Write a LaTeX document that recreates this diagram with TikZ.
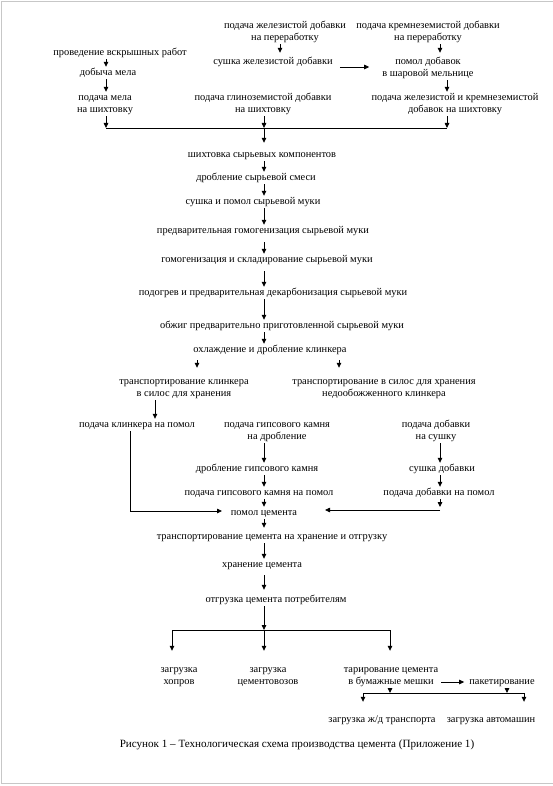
\documentclass[tikz,border=0pt]{standalone}
\usepackage{fontspec}
\setmainfont{Liberation Serif}
\usetikzlibrary{arrows.meta,calc}
\begin{document}
\begin{tikzpicture}[x=1pt,y=-1pt,
  lbl/.style={inner sep=0pt, align=center, font=\fontsize{10.4}{12}\selectfont},
  captxt/.style={inner sep=0pt, font=\fontsize{11.1}{13}\selectfont},
  arr/.style={line width=0.8pt, -{Triangle[length=5pt,width=4.5pt]}},
  plainln/.style={line width=0.8pt},
  pageframe/.style={line width=1pt, draw=black!22}]
\useasboundingbox (0,0) rectangle (553,786);
\draw[pageframe] (553,1.5) -- (1.5,1.5) -- (1.5,783.7) -- (553,783.7);

% ---- nodes ----
\node[lbl] (n1) at (285,32) {\strut подача железистой добавки\\\strut на переработку};
\node[lbl] (n2) at (428,32) {\strut подача кремнеземистой добавки\\\strut на переработку};
\node[lbl] (n3) at (120,53) {\strut проведение вскрышных работ};
\node[lbl] (n4) at (108,73) {\strut добыча мела};
\node[lbl] (n5) at (105,104) {\strut подача мела\\\strut на шихтовку};
\node[lbl] (n6) at (273,62) {\strut сушка железистой добавки};
\node[lbl] (n7) at (428,68) {\strut помол добавок\\\strut в шаровой мельнице};
\node[lbl] (n8) at (263,104) {\strut подача глиноземистой добавки\\\strut на шихтовку};
\node[lbl] (n9) at (455,104) {\strut подача железистой и кремнеземистой\\\strut добавок на шихтовку};
\node[lbl] (n10) at (262,155) {\strut шихтовка сырьевых компонентов};
\node[lbl] (n11) at (256,178) {\strut дробление сырьевой смеси};
\node[lbl] (n12) at (253,202) {\strut сушка и помол сырьевой муки};
\node[lbl] (n13) at (263,231) {\strut предварительная гомогенизация сырьевой муки};
\node[lbl] (n14) at (267,260) {\strut гомогенизация и складирование сырьевой муки};
\node[lbl] (n15) at (273,293) {\strut подогрев и предварительная декарбонизация сырьевой муки};
\node[lbl] (n16) at (282,326) {\strut обжиг предварительно приготовленной сырьевой муки};
\node[lbl] (n17) at (270,350) {\strut охлаждение и дробление клинкера};
\node[lbl] (n18) at (184,388) {\strut транспортирование клинкера\\\strut в силос для хранения};
\node[lbl] (n19) at (384,388) {\strut транспортирование в силос для хранения\\\strut недообожженного клинкера};
\node[lbl] (n20) at (137,425) {\strut подача клинкера на помол};
\node[lbl] (n21) at (277,431) {\strut подача гипсового камня\\\strut на дробление};
\node[lbl] (n22) at (436,431) {\strut подача добавки\\\strut на сушку};
\node[lbl] (n23) at (257,469) {\strut дробление гипсового камня};
\node[lbl] (n24) at (442,469) {\strut сушка добавки};
\node[lbl] (n25) at (259,493) {\strut подача гипсового камня на помол};
\node[lbl] (n26) at (439,493) {\strut подача добавки на помол};
\node[lbl] (n27) at (264,513) {\strut помол цемента};
\node[lbl] (n28) at (272,537) {\strut транспортирование цемента на хранение и отгрузку};
\node[lbl] (n29) at (262,565) {\strut хранение цемента};
\node[lbl] (n30) at (276,600) {\strut отгрузка цемента потребителям};
\node[lbl] (n31) at (179,676) {\strut загрузка\\\strut хопров};
\node[lbl] (n32) at (268,676) {\strut загрузка\\\strut цементовозов};
\node[lbl] (n33) at (391,676) {\strut тарирование цемента\\\strut в бумажные мешки};
\node[lbl] (n34) at (502,682) {\strut пакетирование};
\node[lbl] (n35) at (382,720) {\strut загрузка ж/д транспорта};
\node[lbl] (n36) at (491,720) {\strut загрузка автомашин};
\node[captxt] (capn) at (297,745) {Рисунок 1 – Технологическая схема производства цемента (Приложение 1)};

% ---- helper coordinates ----
\coordinate (xa) at (106,0);
\coordinate (xb) at (280,0);
\coordinate (xc) at (440,0);
\coordinate (xd) at (447,0);
\coordinate (xm) at (264,0);
\coordinate (xl) at (197,0);
\coordinate (xr) at (339,0);
\coordinate (xk) at (155,0);
\coordinate (h67) at (0,67);
\coordinate (b1l) at (106,128);
\coordinate (b1m) at (264,128);
\coordinate (b1r) at (447,128);
\coordinate (c20) at (130,511);
\coordinate (t27l) at (222,511);
\coordinate (c26) at (440,510);
\coordinate (t27r) at (325,510);
\coordinate (b2l) at (172,630);
\coordinate (b2m) at (264,630);
\coordinate (b2r) at (390,630);
\coordinate (b3l) at (363,693);
\coordinate (b3a) at (390,693);
\coordinate (b3b) at (507,693);
\coordinate (b3r) at (524,693);

% ---- connectors: top ----
\draw[arr] (n3.south -| xa) -- (n4.north -| xa);
\draw[arr] (n4.south -| xa) -- (n5.north -| xa);
\draw[arr] (n5.south -| xa) -- (b1l);
\draw[arr, shorten >=3pt] (n1.south -| xb) -- (n6.north -| xb);
\draw[arr, shorten <=7pt, shorten >=13pt] (n6.east |- h67) -- (n7.west |- h67);
\draw[arr, shorten >=3pt] (n2.south -| xc) -- (n7.north -| xc);
\draw[arr] (n7.south -| xd) -- (n9.north -| xd);
\draw[arr] (n8.south -| xm) -- (b1m);
\draw[arr] (n9.south -| xd) -- (b1r);
\draw[plainln] (b1l) -- (b1r);
\draw[arr, shorten >=6pt] (b1m) -- (n10.north -| xm);

% ---- main column ----
\draw[arr] (n10.south -| xm) -- (n11.north -| xm);
\draw[arr] (n11.south -| xm) -- (n12.north -| xm);
\draw[arr] (n12.south -| xm) -- (n13.north -| xm);
\draw[arr, shorten <=5pt] (n13.south -| xm) -- (n14.north -| xm);
\draw[arr, shorten <=5pt] (n14.south -| xm) -- (n15.north -| xm);
\draw[arr] (n15.south -| xm) -- (n16.north -| xm);
\draw[arr] (n16.south -| xm) -- (n17.north -| xm);
\draw[arr, shorten <=4pt, shorten >=8pt] (n17.south -| xl) -- (n18.north -| xl);
\draw[arr, shorten <=4pt, shorten >=8pt] (n17.south -| xr) -- (n19.north -| xr);
\draw[arr] (n18.south -| xk) -- (n20.north -| xk);

% ---- cement grinding inputs ----
\draw[plainln] (n20.south -| c20) -- (c20);
\draw[arr] (c20) -- (t27l);
\draw[arr] (n21.south -| xm) -- (n23.north -| xm);
\draw[arr] (n23.south -| xm) -- (n25.north -| xm);
\draw[arr] (n25.south -| xm) -- (n27.north -| xm);
\draw[arr] (n22.south -| xc) -- (n24.north -| xc);
\draw[arr] (n24.south -| xc) -- (n26.north -| xc);
\draw[arr, shorten >=3pt] (n26.south -| xc) -- (c26);
\draw[arr] (c26) -- (t27r);

% ---- lower column ----
\draw[arr, shorten >=3pt] (n27.south -| xm) -- (n28.north -| xm);
\draw[arr] (n28.south -| xm) -- (n29.north -| xm);
\draw[arr, shorten <=4pt, shorten >=4pt] (n29.south -| xm) -- (n30.north -| xm);
\draw[arr] (n30.south -| xm) -- (b2m);
\draw[plainln] (b2l) -- (b2r);
\draw[arr, shorten >=13pt] (b2l) -- (b2l |- n31.north);
\draw[arr, shorten >=13pt] (b2m) -- (b2m |- n32.north);
\draw[arr, shorten >=13pt] (b2r) -- (b2r |- n33.north);
\draw[arr, shorten <=3pt, shorten >=5pt] (n33.east |- n34) -- (n34.west);
\draw[arr] (n33.south -| b3a) -- (b3a);
\draw[arr] (n34.south -| b3b) -- (b3b);
\draw[plainln] (b3l) -- (b3r);
\draw[arr, shorten >=12pt] (b3l) -- (b3l |- n35.north);
\draw[arr, shorten >=12pt] (b3r) -- (b3r |- n36.north);
\end{tikzpicture}
\end{document}
